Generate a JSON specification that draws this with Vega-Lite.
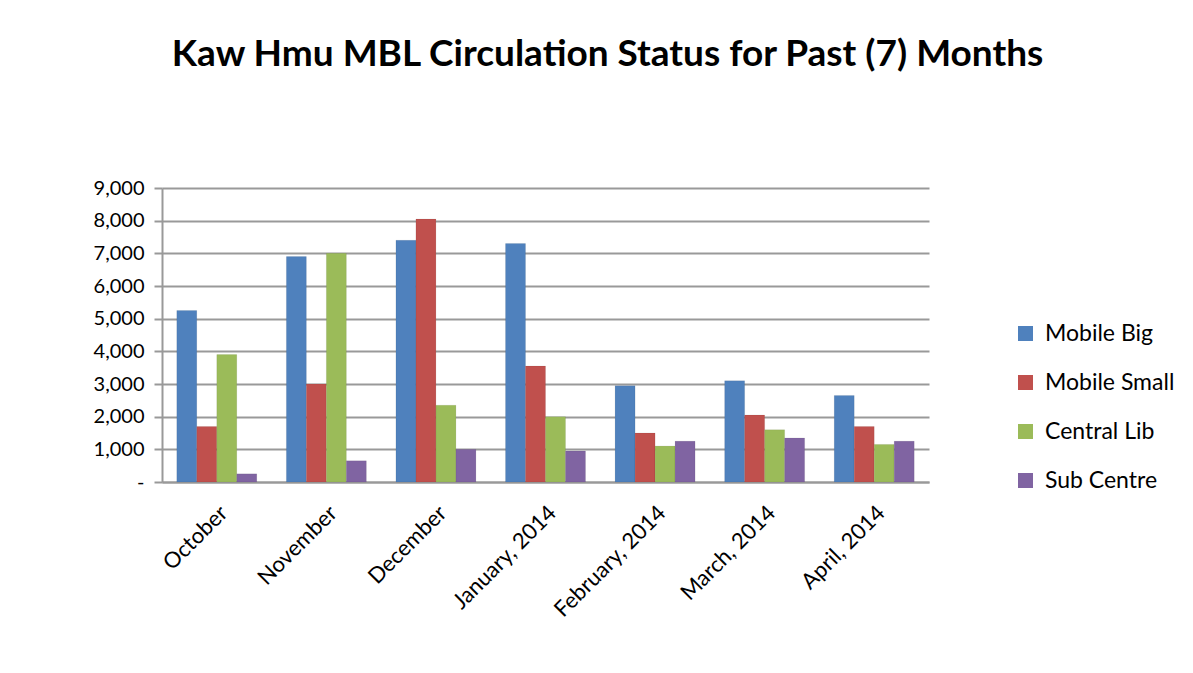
{
  "$schema": "https://vega.github.io/schema/vega-lite/v6.json",
  "width": 767,
  "height": 294,
  "autosize": {"type": "none"},
  "padding": {"left": 162, "top": 188, "right": 264, "bottom": 191},
  "background": "white",
  "title": {
    "text": "Kaw Hmu MBL Circulation Status for Past (7) Months",
    "font": "Lato",
    "fontSize": 37,
    "fontWeight": "bold",
    "color": "black",
    "anchor": "middle",
    "dx": 62,
    "offset": 104
  },
  "data": {
    "values": [
      {"month": "October", "series": "Mobile Big", "value": 5250},
      {"month": "October", "series": "Mobile Small", "value": 1700},
      {"month": "October", "series": "Central Lib", "value": 3900},
      {"month": "October", "series": "Sub Centre", "value": 250},
      {"month": "November", "series": "Mobile Big", "value": 6900},
      {"month": "November", "series": "Mobile Small", "value": 3000},
      {"month": "November", "series": "Central Lib", "value": 7000},
      {"month": "November", "series": "Sub Centre", "value": 650},
      {"month": "December", "series": "Mobile Big", "value": 7400},
      {"month": "December", "series": "Mobile Small", "value": 8050},
      {"month": "December", "series": "Central Lib", "value": 2350},
      {"month": "December", "series": "Sub Centre", "value": 1000},
      {"month": "January, 2014", "series": "Mobile Big", "value": 7300},
      {"month": "January, 2014", "series": "Mobile Small", "value": 3550},
      {"month": "January, 2014", "series": "Central Lib", "value": 2000},
      {"month": "January, 2014", "series": "Sub Centre", "value": 950},
      {"month": "February, 2014", "series": "Mobile Big", "value": 2950},
      {"month": "February, 2014", "series": "Mobile Small", "value": 1500},
      {"month": "February, 2014", "series": "Central Lib", "value": 1100},
      {"month": "February, 2014", "series": "Sub Centre", "value": 1250},
      {"month": "March, 2014", "series": "Mobile Big", "value": 3100},
      {"month": "March, 2014", "series": "Mobile Small", "value": 2050},
      {"month": "March, 2014", "series": "Central Lib", "value": 1600},
      {"month": "March, 2014", "series": "Sub Centre", "value": 1350},
      {"month": "April, 2014", "series": "Mobile Big", "value": 2650},
      {"month": "April, 2014", "series": "Mobile Small", "value": 1700},
      {"month": "April, 2014", "series": "Central Lib", "value": 1150},
      {"month": "April, 2014", "series": "Sub Centre", "value": 1250}
    ]
  },
  "mark": {"type": "bar", "stroke": "#00000022", "strokeWidth": 0.5},
  "encoding": {
    "x": {
      "field": "month",
      "type": "nominal",
      "sort": null,
      "scale": {"paddingInner": 0.27, "paddingOuter": 0.135},
      "axis": {
        "title": null,
        "labelAngle": -45,
        "labelFont": "Lato",
        "labelFontSize": 22,
        "labelColor": "black",
        "labelPadding": 20,
        "domainColor": "#999999",
        "domainWidth": 2,
        "ticks": false
      }
    },
    "xOffset": {
      "field": "series",
      "type": "nominal",
      "sort": ["Mobile Big", "Mobile Small", "Central Lib", "Sub Centre"],
      "scale": {"paddingInner": 0, "paddingOuter": 0}
    },
    "y": {
      "field": "value",
      "type": "quantitative",
      "scale": {"domain": [0, 9000], "nice": false},
      "axis": {
        "title": null,
        "values": [0, 1000, 2000, 3000, 4000, 5000, 6000, 7000, 8000, 9000],
        "labelExpr": "datum.value == 0 ? '-' : format(datum.value, ',')",
        "labelFont": "Lato",
        "labelFontSize": 20,
        "labelColor": "black",
        "labelPadding": 10,
        "tickSize": 8,
        "tickColor": "#999999",
        "tickWidth": 2,
        "domainColor": "#999999",
        "domainWidth": 2,
        "gridColor": "#999999",
        "gridWidth": 2
      }
    },
    "color": {
      "field": "series",
      "type": "nominal",
      "sort": ["Mobile Big", "Mobile Small", "Central Lib", "Sub Centre"],
      "scale": {
        "domain": ["Mobile Big", "Mobile Small", "Central Lib", "Sub Centre"],
        "range": ["#4F81BD", "#C0504D", "#9BBB59", "#8064A2"]
      },
      "legend": {
        "title": null,
        "orient": "none",
        "legendX": 852,
        "legendY": 134,
        "symbolType": "square",
        "symbolSize": 225,
        "symbolStrokeWidth": 0,
        "labelFont": "Lato",
        "labelFontSize": 23,
        "labelColor": "black",
        "labelOffset": 8,
        "rowPadding": 25
      }
    }
  },
  "config": {"view": {"stroke": null}}
}
